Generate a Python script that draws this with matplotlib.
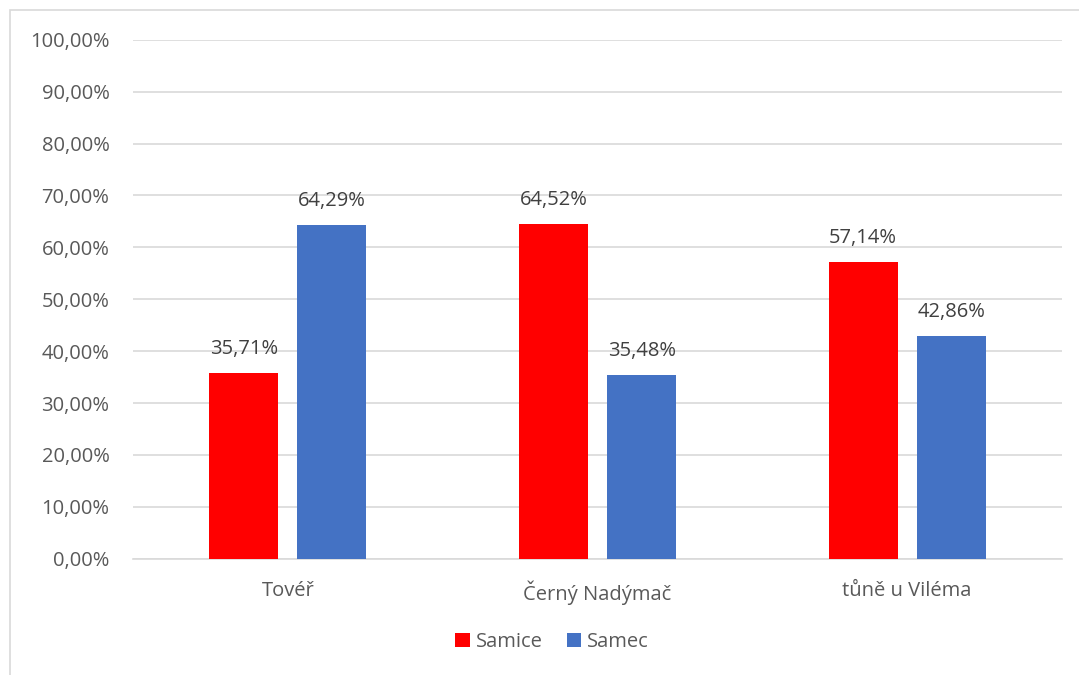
import matplotlib
matplotlib.use("Agg")
import matplotlib.pyplot as plt
import numpy as np
from matplotlib.patches import Rectangle

categories = ["Tovéř", "Černý Nadýmač", "tůně u Viléma"]
samice = [0.3571, 0.6452, 0.5714]
samec = [0.6429, 0.3548, 0.4286]
series_names = ["Samice", "Samec"]
colors = ["#FF0000", "#4472C4"]

plt.rcParams['font.family'] = ['Open Sans', 'DejaVu Sans']
txt = "#595959"
fs = 14.5

fig = plt.figure(figsize=(10.79, 6.75), dpi=100)
fig.patches.append(Rectangle((10/1079, -0.1), 1.2, (675-10)/675 + 0.1, transform=fig.transFigure,
                             fill=False, edgecolor="#d9d9d9", linewidth=1.2))
ax = fig.add_axes([133/1079, (675-558.7)/675, (1062-133)/1079, (558.7-39.7)/675])

x = np.arange(len(categories))
w = 0.223
off = 0.1425
def fmt(v):
    return f"{v*100:.2f}".replace(".", ",") + "%"

for vals, name, c, o in [(samice, series_names[0], colors[0], -off), (samec, series_names[1], colors[1], off)]:
    bars = ax.bar(x + o, vals, w, color=c, label=name, zorder=3)
    for b, v in zip(bars, vals):
        ax.text(b.get_x() + b.get_width()/2, v + 0.027, fmt(v), ha="center", va="bottom",
                fontsize=fs, color="#404040")

ax.set_xlim(-0.5, 2.5)
ax.set_ylim(0, 1.0)
yt = np.arange(0, 1.01, 0.1)
ax.set_yticks(yt)
ax.set_yticklabels([fmt(v) for v in yt], fontsize=fs, color=txt)
ax.set_xticks(x)
ax.set_xticklabels(categories, fontsize=fs, color=txt)
ax.tick_params(axis="both", length=0)
ax.tick_params(axis="y", pad=17)
ax.tick_params(axis="x", pad=16)
ax.grid(axis="y", color="#d9d9d9", linewidth=1.2, zorder=0)
for s in ["top", "right", "left"]:
    ax.spines[s].set_visible(False)
ax.spines["bottom"].set_color("#d9d9d9")
ax.spines["bottom"].set_linewidth(1.2)

leg = fig.legend(loc="center", bbox_to_anchor=(552/1079, (675-642)/675), ncol=2, frameon=False,
                 fontsize=fs, handlelength=0.7, handleheight=0.7, handletextpad=0.3,
                 columnspacing=1.2)
for t in leg.get_texts():
    t.set_color(txt)

fig.savefig("out.png", dpi=100)
